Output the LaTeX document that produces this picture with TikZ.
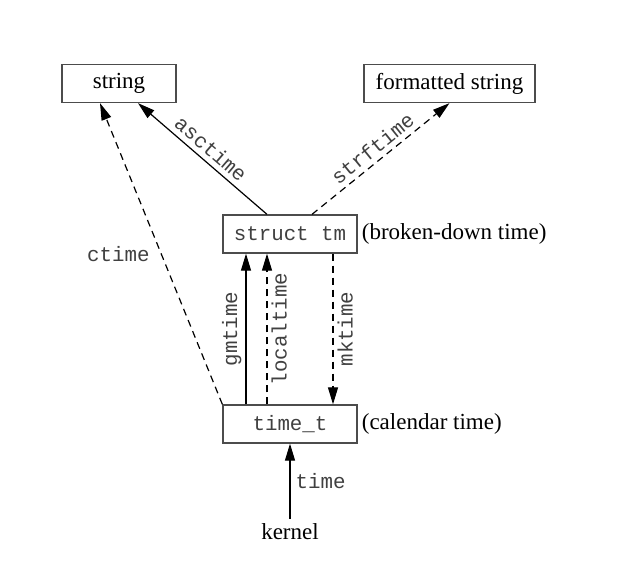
\documentclass[tikz,border=0pt]{standalone}
\usepackage{fontspec}
\setmainfont{Liberation Serif}
\setmonofont{Liberation Mono}
\usetikzlibrary{arrows.meta}
\newcommand\lblserif{\fontsize{23}{27}\selectfont\rmfamily}
\newcommand\lblmono{\fontsize{20.8}{25}\selectfont\ttfamily}
\begin{document}
\begin{tikzpicture}[x=1pt,y=1pt,
  box/.style={draw=black!70, line width=1.3pt, fill=white, minimum height=38pt, inner sep=0pt},
  conn/.style={line width=1.2pt, -{Triangle[length=17pt,width=10pt]}},
  dsh/.style={dash pattern=on 7pt off 5pt},
  lbl/.style={font=\lblmono, text=black!75, inner sep=4pt},
  monotext/.style={font=\lblmono, text=black!75}
]
\useasboundingbox (0,0) rectangle (623,585);
\node[box, minimum width=114pt] (string) at (119,501.5) {\lblserif string};
\node[box, minimum width=171pt] (fstr) at (449.5,501.5) {\lblserif formatted string};
\node[box, monotext, minimum width=134pt] (tm) at (290,351) {struct tm};
\node[box, monotext, minimum width=134pt] (tt) at (290,161) {time\_t};
\node[anchor=west, inner sep=0pt] (tmnote) at ([xshift=4pt]tm.east) {\lblserif (broken-down time)};
\node[anchor=west, inner sep=0pt] (ttnote) at ([xshift=4pt]tt.east) {\lblserif (calendar time)};
\node[anchor=base, inner sep=5pt] (kernel) at (290,45) {\lblserif kernel};

\draw[conn] ([xshift=-23pt]tm.north) -- node[lbl, sloped, above, inner sep=5pt]{asctime} ([xshift=19pt]string.south);
\draw[conn, dsh] ([xshift=22pt]tm.north) -- node[lbl, sloped, above, inner sep=5pt]{strftime} (fstr.south);
\draw[conn, dsh] (tt.north west) -- node[lbl, anchor=east, inner sep=0pt, xshift=-11pt]{ctime} ([xshift=-19pt]string.south);
\draw[conn] ([xshift=-44pt]tt.north) -- node[lbl, rotate=90, above]{gmtime} ([xshift=-44pt]tm.south);
\draw[conn, dsh] ([xshift=-23pt]tt.north) -- node[lbl, rotate=90, below]{localtime} ([xshift=-23pt]tm.south);
\draw[conn, dsh] ([xshift=43pt]tm.south) -- node[lbl, rotate=90, below]{mktime} ([xshift=43pt]tt.north);
\draw[conn] (kernel) -- node[lbl, right, inner sep=0pt, xshift=5pt]{time} (tt.south);
\end{tikzpicture}
\end{document}
